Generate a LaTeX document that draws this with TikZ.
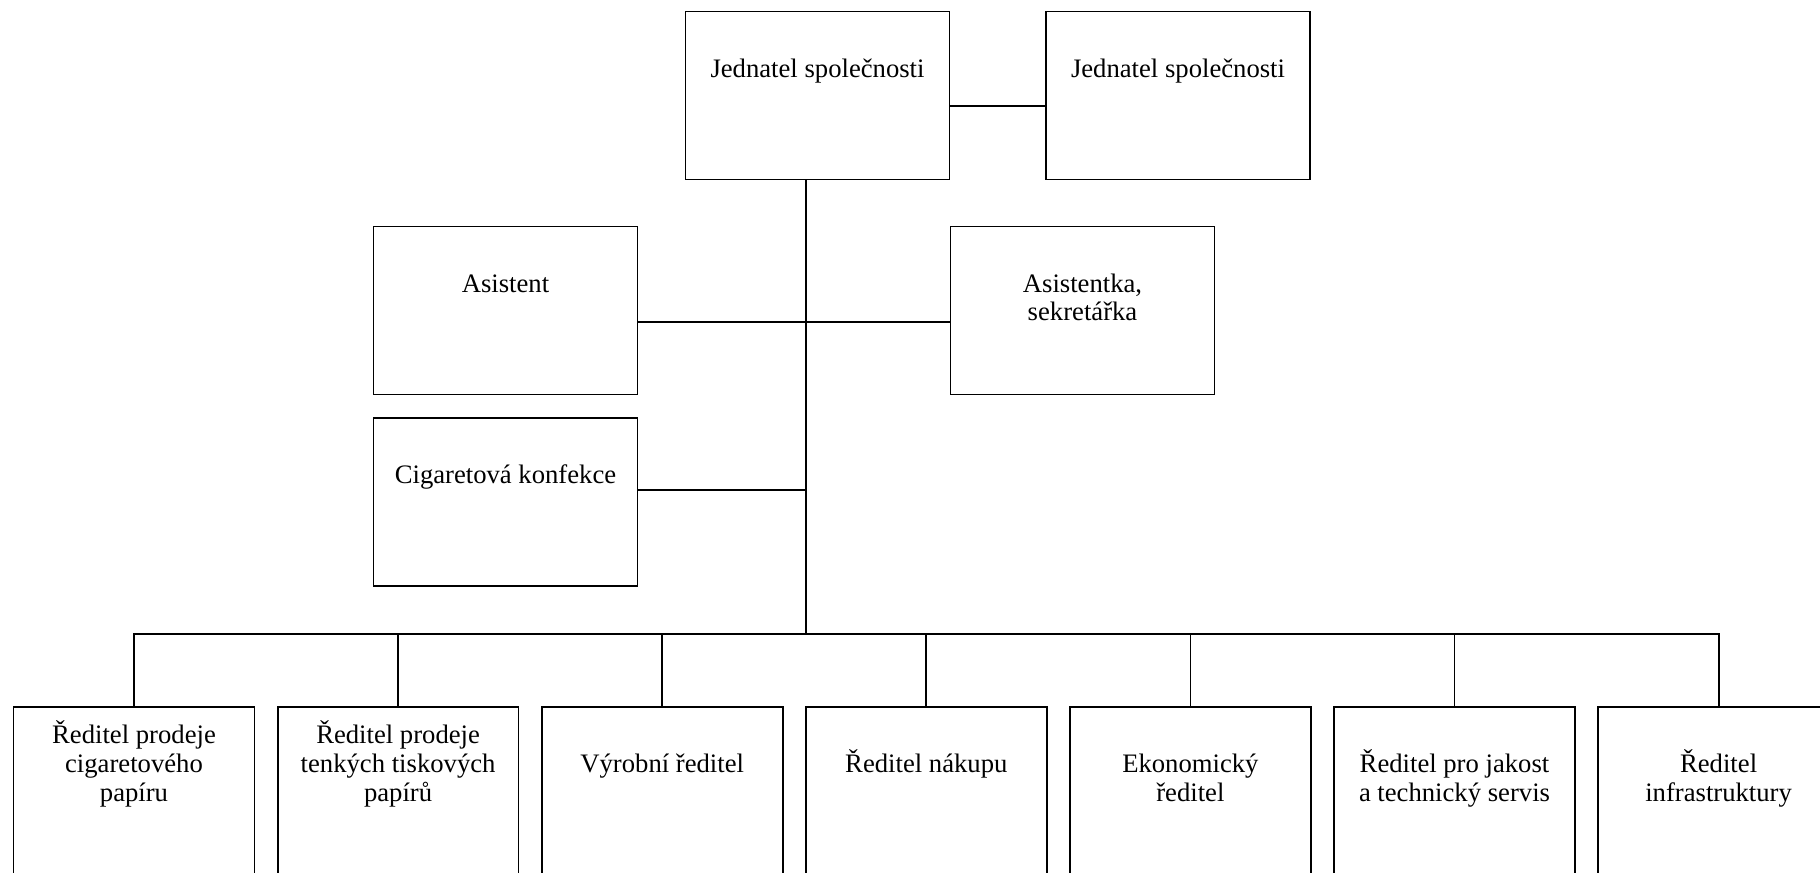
\documentclass[tikz,border=0pt]{standalone}
\usepackage{fontspec}
\setmainfont{Liberation Serif}
\usetikzlibrary{positioning, calc}
\newcommand{\tline}{\rule{0pt}{11pt}}
\tikzset{
  font=\fontsize{12}{13}\selectfont,
  %
  box/.style={
    draw=black, line width=0.8pt, fill=white, inner sep=0pt,
    minimum width=118.8pt, minimum height=75.6pt,
  },
  boxr/.style={box, minimum width=108.4pt, minimum height=90pt},
  %
  labtop/.style={anchor=north, inner sep=0pt, align=center},
  lab/.style={labtop, yshift=-18.7pt},
  labhi/.style={labtop, yshift=-5.7pt},
  %
  link/.style={draw=black, line width=0.8pt},
}
\begin{document}
\begin{tikzpicture}[x=0.45pt, y=-0.45pt]
\useasboundingbox (0,0) rectangle (1820,872);
\clip (0,0) rectangle (1820,872);

% =========================================================================
% TOP: management and staff
% =========================================================================
\node[box, label={[lab]north:{\tline Jednatel společnosti}}] (jed1) at (817.5,95.5) {};
\node[box, label={[lab]north:{\tline Jednatel společnosti}}] (jed2) at (1178,95.5) {};

\node[box, label={[lab]north:{\tline Asistent}}] (asi) at (505.5,310.5) {};
\node[box, label={[lab]north:{\tline Asistentka,\\sekretářka}}] (asik) at (1082.5,310.5) {};
\node[box, label={[lab]north:{\tline Cigaretová konfekce}}] (cig) at (505.5,502.2) {};

\coordinate (hub) at (806,634);
\coordinate (cigout) at ($(cig.east)+(0,-12)$);

\draw[link] ($(jed1.east)+(0,10.5)$) -- ($(jed2.west)+(0,10.5)$);
\draw[link] (hub |- jed1.south) -- (hub);
\draw[link] ($(asi.east)+(0,11.5)$) -- ($(asik.west)+(0,11.5)$);
\draw[link] (cigout) -- (hub |- cigout);

% =========================================================================
% BOTTOM: directors
% =========================================================================
\node[boxr, label={[labhi]north:{\tline Ředitel prodeje\\cigaretového\\papíru}}] (r1) at (134,806.7) {};
\node[boxr, label={[labhi]north:{\tline Ředitel prodeje\\tenkých tiskových\\papírů}}] (r2) at (398.1,806.7) {};
\node[boxr, label={[lab]north:{\tline Výrobní ředitel}}] (r3) at (662.2,806.7) {};
\node[boxr, label={[lab]north:{\tline Ředitel nákupu}}] (r4) at (926.3,806.7) {};
\node[boxr, label={[lab]north:{\tline Ekonomický\\ředitel}}] (r5) at (1190.4,806.7) {};
\node[boxr, label={[lab]north:{\tline Ředitel pro jakost\\a technický servis}}] (r6) at (1454.5,806.7) {};
\node[boxr, label={[lab]north:{\tline Ředitel\\infrastruktury}}] (r7) at (1718.6,806.7) {};

\foreach \n in {1,...,7}
  \draw[link] (r\n.north) |- (hub);

\end{tikzpicture}
\end{document}
